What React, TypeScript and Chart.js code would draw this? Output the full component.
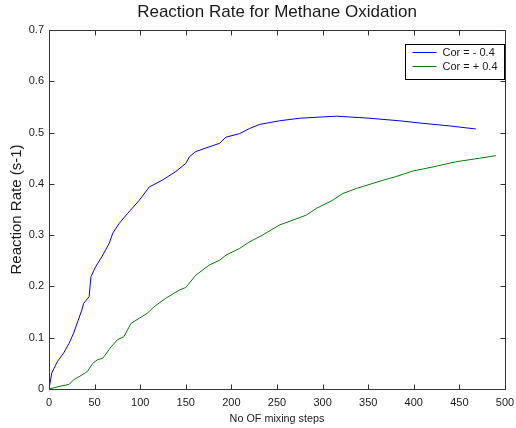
import React, { useEffect, useRef } from "react";
import { Chart, registerables } from "chart.js";

Chart.register(...registerables);

const TITLE = "Reaction Rate for Methane Oxidation";
const X_TITLE = "No OF mixing steps";
const Y_TITLE = "Reaction Rate (s-1)";
const SERIES_LABELS = ["Cor = - 0.4", "Cor = + 0.4"];
const SERIES_COLORS = ["#0000ff", "#008000"];

const X_TICKS = [0, 50, 100, 150, 200, 250, 300, 350, 400, 450, 500];
const Y_TICKS = [0, 0.1, 0.2, 0.3, 0.4, 0.5, 0.6, 0.7];
const Y_TICK_LABELS = ["0", "0.1", "0.2", "0.3", "0.4", "0.5", "0.6", "0.7"];

// Cor = - 0.4
const blueX = [0, 3, 9, 16, 22, 27, 32, 36, 38, 44, 46, 51, 58, 66, 70, 77, 86, 99, 110, 124, 139, 150, 154, 161, 172, 187, 194, 209, 220, 231, 253, 275, 315, 351, 384, 410, 439, 468];
const blueY = [0, 0.031, 0.053, 0.07, 0.089, 0.109, 0.134, 0.154, 0.167, 0.18, 0.219, 0.238, 0.258, 0.284, 0.304, 0.323, 0.342, 0.368, 0.394, 0.407, 0.424, 0.44, 0.453, 0.463, 0.47, 0.479, 0.491, 0.498, 0.508, 0.516, 0.523, 0.528, 0.532, 0.528, 0.523, 0.518, 0.513, 0.507];

// Cor = + 0.4
const greenX = [0, 11, 22, 27, 33, 42, 48, 53, 59, 68, 75, 82, 90, 99, 108, 115, 128, 143, 150, 161, 176, 187, 194, 209, 220, 234, 253, 267, 282, 293, 311, 322, 337, 366, 380, 399, 421, 446, 472, 490];
const greenY = [0, 0.005, 0.009, 0.018, 0.024, 0.034, 0.05, 0.057, 0.06, 0.082, 0.096, 0.102, 0.128, 0.138, 0.148, 0.16, 0.177, 0.193, 0.198, 0.222, 0.242, 0.251, 0.261, 0.274, 0.287, 0.3, 0.32, 0.329, 0.339, 0.352, 0.368, 0.381, 0.391, 0.407, 0.414, 0.425, 0.433, 0.443, 0.45, 0.455];

const FONT = "'Liberation Sans', Arial, Helvetica, sans-serif";
const TEXT_COLOR = "#1a1a1a";

const boxPlugin = {
  id: "matlabBox",
  afterDatasetsDraw(chart: any) {
    const { ctx, chartArea } = chart;
    const xs = chart.scales.x;
    const ys = chart.scales.y;
    const L = Math.round(chartArea.left) + 0.5;
    const R = Math.round(chartArea.right) + 0.5;
    const T = Math.round(chartArea.top) + 0.5;
    const B = Math.round(chartArea.bottom) + 0.5;
    const tl = 5;
    ctx.save();
    ctx.strokeStyle = "#333";
    ctx.lineWidth = 1;
    ctx.beginPath();
    ctx.rect(L, T, R - L, B - T);
    X_TICKS.forEach((v) => {
      const p = Math.round(xs.getPixelForValue(v)) + 0.5;
      ctx.moveTo(p, B);
      ctx.lineTo(p, B - tl);
      ctx.moveTo(p, T);
      ctx.lineTo(p, T + tl);
    });
    Y_TICKS.forEach((v) => {
      const p = Math.round(ys.getPixelForValue(v)) + 0.5;
      ctx.moveTo(L, p);
      ctx.lineTo(L + tl, p);
      ctx.moveTo(R, p);
      ctx.lineTo(R - tl, p);
    });
    ctx.stroke();

    // legend
    ctx.font = `11px ${FONT}`;
    const textW = Math.max(...SERIES_LABELS.map((s) => ctx.measureText(s).width));
    const padL = 7, lineLen = 24, gap = 6, padR = 7;
    const w = Math.round(padL + lineLen + gap + textW + padR);
    const h = 35;
    const bx = Math.round(chartArea.right) - 1 - w + 0.5;
    const by = Math.round(chartArea.top) + 14 + 0.5;
    ctx.fillStyle = "#fff";
    ctx.fillRect(bx, by, w, h);
    ctx.strokeStyle = "#000";
    ctx.strokeRect(bx, by, w, h);
    SERIES_LABELS.forEach((lab, i) => {
      const cy = Math.round(by + 7 + i * 14.5) + 0.5;
      ctx.strokeStyle = SERIES_COLORS[i];
      ctx.beginPath();
      ctx.moveTo(bx + padL, cy);
      ctx.lineTo(bx + padL + lineLen, cy);
      ctx.stroke();
      ctx.fillStyle = TEXT_COLOR;
      ctx.textBaseline = "middle";
      ctx.textAlign = "left";
      ctx.fillText(lab, bx + padL + lineLen + gap, cy);
    });
    ctx.restore();
  },
};

export default function App() {
  const ref = useRef<HTMLCanvasElement | null>(null);
  useEffect(() => {
    if (!ref.current) return;
    const chart = new Chart(ref.current, {
      type: "line",
      data: {
        datasets: [
          {
            label: SERIES_LABELS[0],
            data: blueX.map((x, i) => ({ x, y: blueY[i] })),
            borderColor: SERIES_COLORS[0],
            borderWidth: 1,
            pointRadius: 0,
            fill: false,
            tension: 0,
          },
          {
            label: SERIES_LABELS[1],
            data: greenX.map((x, i) => ({ x, y: greenY[i] })),
            borderColor: SERIES_COLORS[1],
            borderWidth: 1,
            pointRadius: 0,
            fill: false,
            tension: 0,
          },
        ],
      },
      options: {
        responsive: false,
        animation: false,
        devicePixelRatio: 1,
        layout: { padding: { left: 0, right: 11, top: 0, bottom: 0 } },
        plugins: {
          legend: { display: false },
          tooltip: { enabled: false },
          title: {
            display: true,
            text: TITLE,
            fullSize: false,
            color: TEXT_COLOR,
            font: { family: FONT, size: 17, weight: "normal" },
            padding: { top: 2, bottom: 7.6 },
          },
        },
        scales: {
          x: {
            type: "linear",
            min: 0,
            max: 500,
            afterBuildTicks: (s: any) => {
              s.ticks = X_TICKS.map((v) => ({ value: v }));
            },
            afterFit: (s: any) => {
              s.height = 39;
              s.paddingLeft = 0;
              s.paddingRight = 0;
            },
            grid: { display: false, drawTicks: false },
            border: { display: false },
            ticks: {
              padding: 7,
              color: TEXT_COLOR,
              maxRotation: 0,
              autoSkip: false,
              font: { family: FONT, size: 11 },
              callback: (v: any) => String(v),
            },
            title: {
              display: true,
              text: X_TITLE,
              color: TEXT_COLOR,
              font: { family: FONT, size: 10.8 },
              padding: { top: 0, bottom: 2 },
            },
          },
          y: {
            type: "linear",
            min: 0,
            max: 0.7,
            afterBuildTicks: (s: any) => {
              s.ticks = Y_TICKS.map((v) => ({ value: v }));
            },
            afterFit: (s: any) => {
              s.width = 49;
              s.paddingTop = 0;
              s.paddingBottom = 0;
            },
            grid: { display: false, drawTicks: false },
            border: { display: false },
            ticks: {
              padding: 5,
              color: TEXT_COLOR,
              autoSkip: false,
              font: { family: FONT, size: 11 },
              callback: (v: any) => {
                const i = Y_TICKS.findIndex((t) => Math.abs(t - v) < 1e-9);
                return i >= 0 ? Y_TICK_LABELS[i] : "";
              },
            },
            title: {
              display: true,
              text: Y_TITLE,
              color: TEXT_COLOR,
              font: { family: FONT, size: 15 },
              padding: { top: 7.5, bottom: 0 },
            },
          },
        },
      } as any,
      plugins: [boxPlugin],
    });
    return () => chart.destroy();
  }, []);
  return (
    <div style={{ position: "absolute", left: 0, top: 0, width: 516, height: 428, background: "#fff" }}>
      <canvas ref={ref} width={516} height={428} style={{ display: "block" }} />
    </div>
  );
}
